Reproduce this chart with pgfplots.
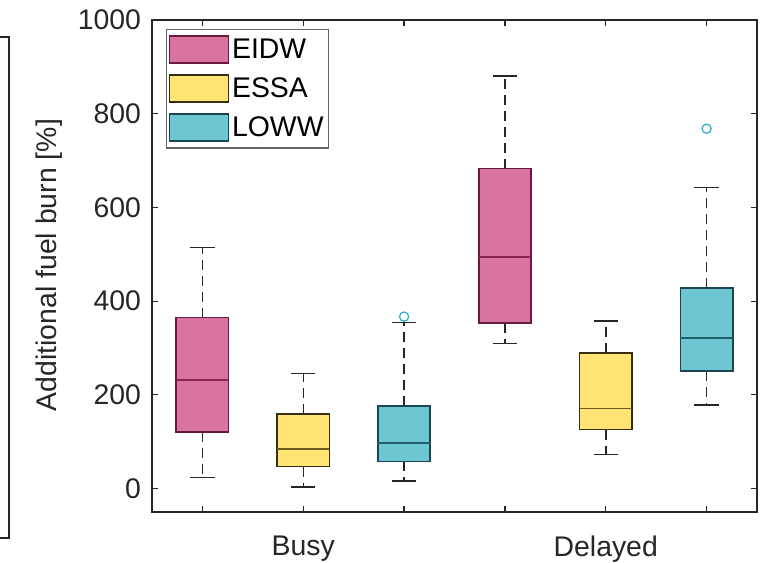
\documentclass[border=0pt]{standalone}
\usepackage{pgfplots}
\pgfplotsset{compat=1.18}
\usepgfplotslibrary{statistics}
\usepackage{fontspec}
\setmainfont{Liberation Sans}
\definecolor{pinkF}{RGB}{216,116,159}
\definecolor{pinkE}{RGB}{105,25,62}
\definecolor{pinkM}{RGB}{140,35,85}
\definecolor{yelF}{RGB}{255,227,116}
\definecolor{yelE}{RGB}{55,45,15}
\definecolor{yelM}{RGB}{110,90,30}
\definecolor{cyaF}{RGB}{111,198,211}
\definecolor{cyaE}{RGB}{25,70,80}
\definecolor{cyaM}{RGB}{30,95,105}
\definecolor{axgray}{RGB}{38,38,38}
\definecolor{outl}{RGB}{40,175,195}
\tikzset{
  dashwhisk/.style={black!85, line width=0.75pt, dash pattern=on 5pt off 3pt},
  capwhisk/.style={black!85, line width=0.75pt, solid},
}
\pgfplotsset{
  boxplot/draw/lower whisker/.code={%
    \draw[dashwhisk]
      (boxplot box cs:\pgfplotsboxplotvalue{lower quartile},0.5) -- (boxplot box cs:\pgfplotsboxplotvalue{lower whisker},0.5);
    \draw[capwhisk]
      (boxplot whisker cs:\pgfplotsboxplotvalue{lower whisker},0) -- (boxplot whisker cs:\pgfplotsboxplotvalue{lower whisker},1);
  },
  boxplot/draw/upper whisker/.code={%
    \draw[dashwhisk]
      (boxplot box cs:\pgfplotsboxplotvalue{upper quartile},0.5) -- (boxplot box cs:\pgfplotsboxplotvalue{upper whisker},0.5);
    \draw[capwhisk]
      (boxplot whisker cs:\pgfplotsboxplotvalue{upper whisker},0) -- (boxplot whisker cs:\pgfplotsboxplotvalue{upper whisker},1);
  },
}
\begin{document}
\begin{tikzpicture}
\path[use as bounding box] (-76pt,-25pt) rectangle (309pt,256pt);
\begin{axis}[
  at={(0,0)}, anchor=south west,
  scale only axis, width=302.5pt, height=246pt,
  xmin=0.5, xmax=6.5, ymin=-50, ymax=1000,
  xtick={1,2,3,4,5,6}, xticklabels={,Busy,,,Delayed,},
  ytick={0,200,400,600,800,1000},
  major tick length=3pt,
  axis line style={axgray, line width=0.6pt},
  tick style={axgray, line width=0.6pt},
  tick align=inside,
  /pgf/number format/assume math mode=true,
  /pgf/number format/set thousands separator={},
  every tick label/.append style={font=\fontsize{14.2}{17}\selectfont, text=axgray},
  yticklabel style={xshift=-2pt},
  xticklabel style={yshift=-8.5pt},
  ylabel={Additional fuel burn [\%]},
  every axis y label/.style={at={(axis description cs:-0.170,0.502)}, rotate=90, anchor=center, font=\fontsize{14.2}{17}\selectfont, text=axgray},
  legend style={at={(axis description cs:0.023,0.982)}, anchor=north west,
    draw=black!60, line width=0.6pt, fill=white, font=\fontsize{14.2}{17}\selectfont,
    inner xsep=1pt, inner ysep=3pt, row sep=5.2pt,
    nodes={inner xsep=1.5pt, inner ysep=1pt}},
  legend cell align=left,
  legend image code/.code={\draw[#1] (0pt,-6.75pt) rectangle (29.5pt,6.75pt);},
  boxplot/draw direction=y,
  boxplot/box extend=0.52,
  boxplot/whisker extend=0.24,
]
\addlegendimage{fill=pinkF, draw=pinkE, line width=0.8pt}
\addlegendentry{EIDW}
\addlegendimage{fill=yelF, draw=yelE, line width=0.8pt}
\addlegendentry{ESSA}
\addlegendimage{fill=cyaF, draw=cyaE, line width=0.8pt}
\addlegendentry{LOWW}

% Busy
\addplot[forget plot, black, solid, boxplot prepared={draw position=1, lower whisker=24, lower quartile=121, median=231, upper quartile=365, upper whisker=514},
  boxplot/every box/.style={fill=pinkF, draw=pinkE, line width=0.85pt},
  boxplot/every median/.style={draw=pinkM, line width=0.85pt}] coordinates {};
\addplot[forget plot, black, solid, boxplot prepared={draw position=2, lower whisker=3, lower quartile=47, median=85, upper quartile=159, upper whisker=246},
  boxplot/every box/.style={fill=yelF, draw=yelE, line width=0.85pt},
  boxplot/every median/.style={draw=yelM, line width=0.85pt}] coordinates {};
\addplot[forget plot, black, solid,
  boxplot prepared={draw position=3, lower whisker=16, lower quartile=58, median=97, upper quartile=176, upper whisker=354},
  boxplot/every box/.style={fill=cyaF, draw=cyaE, line width=0.85pt},
  boxplot/every median/.style={draw=cyaM, line width=0.85pt}] coordinates {};
% Delayed
\addplot[forget plot, black, solid, boxplot prepared={draw position=4, lower whisker=310, lower quartile=353, median=494, upper quartile=683, upper whisker=880},
  boxplot/every box/.style={fill=pinkF, draw=pinkE, line width=0.85pt},
  boxplot/every median/.style={draw=pinkM, line width=0.85pt}] coordinates {};
\addplot[forget plot, black, solid, boxplot prepared={draw position=5, lower whisker=73, lower quartile=126, median=171, upper quartile=289, upper whisker=358},
  boxplot/every box/.style={fill=yelF, draw=yelE, line width=0.85pt},
  boxplot/every median/.style={draw=yelM, line width=0.85pt}] coordinates {};
\addplot[forget plot, black, solid,
  boxplot prepared={draw position=6, lower whisker=178, lower quartile=251, median=321, upper quartile=428, upper whisker=643},
  boxplot/every box/.style={fill=cyaF, draw=cyaE, line width=0.85pt},
  boxplot/every median/.style={draw=cyaM, line width=0.85pt}] coordinates {};
% outliers
\addplot[forget plot, only marks, mark=o, mark size=2.3pt, mark options={draw=outl, line width=0.6pt, solid}] coordinates {(3,367) (6,768)};
\end{axis}
\draw[axgray, line width=1pt] (-76pt,237.5pt) -- (-71.5pt,237.5pt) -- (-71.5pt,-13pt) -- (-76pt,-13pt);
\end{tikzpicture}
\end{document}
